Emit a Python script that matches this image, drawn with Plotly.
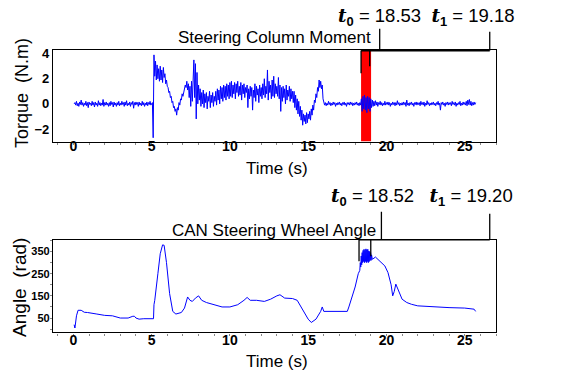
import plotly.graph_objects as go

# ---- data ----
# torque sampled every 0.05 s from 0.05 s to 25.70 s (one row = one second)
torque_v = [
    0.0, 0.1, -0.1, 0.2, -0.15, 0.05, -0.2, 0.15, -0.05, 0.3, -0.1, 0.1, -0.2, 0.05, -0.1, 0.2, -0.15, 0.1, -0.3, 0.15,
    -0.05, 0.05, -0.15, 0.2, -0.1, 0.1, -0.25, 0.15, -0.1, 0.05, -0.2, 0.25, -0.1, 0.1, -0.15, 0.05, -0.1, 0.35, -0.2, 0.1,
    -0.1, 0.15, -0.1, 0.05, -0.2, 0.1, -0.15, 0.2, -0.05, 0.1, -0.25, 0.15, -0.1, 0.05, -0.2, 0.1, -0.1, 0.2, -0.15, 0.05,
    -0.1, 0.2, -0.05, 0.1, -0.2, 0.15, -0.1, 0.25, -0.15, 0.05, -0.1, 0.15, -0.2, 0.1, -0.05, 0.2, -0.35, 0.1, -0.1, 0.15,
    -0.05, 0.1, -0.2, 0.15, -0.1, 0.05, -0.15, 0.2, -0.1, 0.1, -0.2, 0.05, -0.1, 0.15, -0.15, 0.1, -0.05, 0.2, -0.1, 0.05,
    0.1, -2.7, 3.9, 2.2, 3.4, 1.9, 3.1, 2.0, 2.8, 1.8, 3.0, 1.9, 2.7, 1.7, 2.9, 2.1, 2.4, 1.6, 1.9, 1.4,
    1.3, 0.9, 1.0, 0.5, 0.6, 0.1, 0.2, -0.3, -0.2, -0.6, -0.4, -0.9, -0.3, -0.5, 0.1, -0.1, 0.4, 0.3, 0.8, 0.6,
    1.0, 1.2, 1.5, 1.3, 1.8, 1.1, 1.6, 0.5, 1.4, -0.2, 1.8, 0.2, 2.2, 3.5, 0.5, 3.2, -1.2, 2.5, 0.0, 1.5,
    0.3, 1.2, -0.2, 0.9, 0.0, 1.1, -0.3, 0.8, 0.1, 0.9, -0.4, 0.6, 0.2, 1.0, -0.3, 0.7, 0.1, 0.9, -0.2, 0.6,
    0.2, 1.0, -0.1, 1.2, 0.3, 1.1, 0.0, 1.4, 0.4, 1.3, 0.2, 1.5, 0.5, 1.4, 0.3, 1.6, 0.6, 1.5, 0.4, 1.7,
    0.6, 1.8, 0.5, 1.5, 0.8, 1.7, 0.4, 1.6, 0.9, 1.8, 0.6, 1.4, 0.7, 1.7, 0.3, 1.5, 0.8, 1.6, 0.5, 1.3,
    0.9, 1.5, -0.3, 1.2, 0.4, 1.4, 0.6, 1.3, -0.5, 1.1, 0.5, 1.6, 0.2, 1.4, 0.7, 1.2, 0.1, 1.5, 0.6, 1.3,
    0.4, 1.6, 0.7, 2.0, 0.5, 1.4, 0.8, 2.7, 0.3, 1.8, 0.9, 1.5, 0.4, 1.9, 0.6, 2.2, 0.5, 1.6, 0.8, 1.4,
    0.6, 2.1, 0.4, 1.5, -0.6, 1.3, 0.2, 1.4, 0.5, 1.2, 0.0, 1.5, 0.3, 1.1, 0.6, 1.4, 0.2, 1.2, 0.4, 1.0,
    0.1, 1.0, -0.3, 0.7, -0.5, 0.4, -0.8, 0.2, -1.0, -0.2, -1.3, -0.5, -1.7, -0.8, -1.4, -0.9, -1.6, -0.7, -1.5, -0.8,
    -1.2, -0.6, -1.3, -0.4, -0.9, -0.1, -0.5, 0.3, 0.1, 0.8, 0.5, 1.3, 1.0, 1.9, 1.3, 1.8, 1.2, 1.5, 0.4, 0.1,
    -0.1, 0.1, -0.15, 0.05, -0.1, 0.2, -0.05, 0.1, -0.15, 0.05, -0.1, 0.15, -0.05, 0.1, -0.2, 0.05, -0.1, 0.1, -0.05, 0.15,
    -0.1, 0.05, -0.15, 0.1, -0.05, 0.15, -0.1, 0.05, -0.2, 0.1, -0.05, 0.1, -0.1, 0.15, -0.05, 0.1, -0.15, 0.05, -0.1, 0.1,
    -0.05, 0.15, -0.1, 0.05, -0.15, 0.1, -0.1, 0.4, -0.6, 0.6, -0.4, 0.7, -0.5, 0.5, -0.7, 0.6, -0.4, 0.5, -0.6, 0.4,
    -0.3, 0.3, -0.2, 0.2, -0.15, 0.25, -0.1, 0.15, -0.2, 0.1, -0.05, 0.2, -0.1, 0.1, -0.15, 0.05, -0.1, 0.2, -0.1, 0.1,
    -0.05, 0.15, -0.1, 0.1, -0.2, 0.05, -0.1, 0.15, -0.05, 0.1, -0.15, 0.1, -0.1, 0.25, -0.05, 0.1, -0.15, 0.05, -0.1, 0.1,
    -0.1, 0.15, -0.05, 0.1, -0.2, 0.3, -0.1, 0.05, -0.15, 0.1, -0.05, 0.15, -0.1, 0.05, -0.2, 0.1, -0.05, 0.15, -0.1, 0.1,
    -0.05, 0.1, -0.15, 0.2, -0.05, 0.1, -0.1, 0.15, -0.2, 0.05, -0.1, 0.25, -0.05, 0.1, -0.15, 0.05, -0.1, 0.1, -0.05, 0.15,
    -0.1, 0.05, -0.15, 0.1, -0.05, 0.2, -0.1, 0.05, -0.5, 0.1, -0.05, 0.15, -0.1, 0.05, -0.2, 0.1, -0.05, 0.15, -0.1, 0.1,
    -0.05, 0.1, -0.15, 0.2, -0.05, 0.1, -0.1, 0.15, -0.2, 0.05, -0.1, 0.1, -0.05, 0.2, -0.15, 0.05, -0.1, 0.15, -0.05, 0.1,
    -0.1, 0.2, -0.15, 0.3, -0.05, 0.35, -0.1, 0.2, -0.15, 0.1, -0.1, 0.15, -0.05, 0.1,
]
torque_t = [round(0.05 * (i + 1), 2) for i in range(len(torque_v))]

angle_t = [0.05, 0.1, 0.2, 0.3, 0.5, 0.7, 0.9, 1.2, 1.5, 2.0, 2.5, 3.0, 3.5, 3.8, 3.9,
           4.0, 4.2, 4.5, 5.0, 5.12, 5.15, 5.2, 5.4, 5.55, 5.7, 5.8, 5.95, 6.15, 6.35,
           6.55, 6.9, 7.1, 7.3, 7.45, 7.6, 7.8, 8.0, 8.2, 8.5, 9.0, 9.5, 10.0, 10.5,
           10.9, 11.1, 11.3, 11.7, 12.2, 12.6, 13.0, 13.2, 13.5, 14.0, 14.3, 14.5,
           14.8, 15.0, 15.2, 15.5, 15.8, 15.9, 16.0, 16.3, 17.5, 17.6, 18.0, 18.2,
           18.3, 18.33, 18.36, 18.39, 18.42, 18.45, 18.48, 18.51, 18.54, 18.57, 18.6,
           18.63, 18.66, 18.69, 18.72, 18.75, 18.78, 18.81, 18.84, 18.87, 18.9, 18.93,
           18.96, 18.99, 19.02, 19.05, 19.1, 19.3, 19.6, 19.9, 20.1, 20.3, 20.4,
           20.5, 20.6, 20.75, 21.0, 21.3, 21.6, 22.0, 23.0, 24.0, 25.0, 25.4, 25.5,
           25.6, 25.7]
angle_v = [20, 5, 60, 85, 85, 76, 75, 70, 68, 62, 60, 50, 50, 58, 58,
           50, 45, 47, 47, 47, 110, 130, 250, 340, 380, 378, 300, 160, 80,
           68, 75, 95, 145, 130, 125, 140, 150, 130, 120, 110, 100, 100, 110,
           130, 143, 130, 130, 125, 135, 150, 155, 140, 138, 130, 105,
           70, 45, 30, 45, 80, 100, 80, 80, 80, 100, 190, 250,
           265, 300, 280, 330, 290, 345, 300, 355, 305, 360, 300, 355,
           305, 362, 300, 358, 305, 360, 300, 352, 305, 350, 310,
           345, 310, 335, 315, 325, 305, 285, 255, 200, 150, 170,
           203, 180, 135, 120, 112, 105, 100, 97, 95, 93, 92, 90,
           80, 25]

band = [18.38, 19.02]
x_ticks = [0, 5, 10, 15, 20, 25]
torque_ticks = [-2, 0, 2, 4]
angle_ticks = [50, 150, 250, 350]

W, H = 566, 374
FONT = "Liberation Sans, Arial, sans-serif"
SERIF = "DejaVu Serif, serif"


def tlabel(a, b, gap):
    t = "<span style='font-family:%s'><b><i>t</i></b></span>" % SERIF
    return (t + "<b><sub>0</sub></b> = " + a + gap + t + "<b><sub>1</sub></b> = " + b)


top_label = tlabel("18.53", "19.18", "&nbsp;&nbsp;")
bot_label = tlabel("18.52", "19.20", "&nbsp;&nbsp;&nbsp;")


def py(p):
    return 1 - p / H


fig = go.Figure()
fig.add_trace(go.Scatter(x=torque_t, y=torque_v, mode="lines",
                         line=dict(color="#0000ff", width=1), xaxis="x", yaxis="y",
                         showlegend=False))
fig.add_trace(go.Scatter(x=angle_t, y=angle_v, mode="lines",
                         line=dict(color="#0000ff", width=1), xaxis="x2", yaxis="y2",
                         showlegend=False))

axis_common = dict(showline=True, linecolor="black", linewidth=1.2, mirror=True,
                   tickcolor="black", showgrid=False, zeroline=False)

fig.update_layout(
    width=W, height=H,
    margin=dict(l=53, r=70, t=0, b=0),
    paper_bgcolor="white", plot_bgcolor="white",
    font=dict(family=FONT, color="black"),
    xaxis=dict(domain=[0, 1], range=[-1.3, 27], anchor="y", tickvals=x_ticks, ticks="",
               tickfont=dict(size=14, weight="bold"), ticklabelstandoff=-8,
               minor=dict(dtick=1, ticklen=2, tickcolor="#888", ticks="outside"),
               **axis_common),
    yaxis=dict(domain=[py(139), py(47)], range=[-3.0, 4.25], anchor="x", ticks="",
               tickvals=torque_ticks, tickfont=dict(size=13, weight="bold"),
               **axis_common),
    xaxis2=dict(domain=[0, 1], range=[-1.3, 27], anchor="y2", tickvals=x_ticks, ticks="",
                tickfont=dict(size=14, weight="bold"), ticklabelstandoff=-5,
                minor=dict(dtick=1, ticklen=2, tickcolor="#888", ticks="outside"),
                **axis_common),
    yaxis2=dict(domain=[py(332), py(239)], range=[-15, 400], anchor="x2", ticks="",
                tickvals=angle_ticks, tickfont=dict(size=11, weight="bold"),
                minor=dict(dtick=50, ticklen=2, tickcolor="#888", ticks="outside"),
                **axis_common),
)

# red highlighted window
fig.add_shape(type="rect", xref="x", yref="y", x0=band[0], x1=band[1], y0=-3.0, y1=4.25,
              fillcolor="#ff0000", line=dict(width=0), layer="below")

# bracket lines, top panel
line_k = dict(color="black", width=1.3)
for xs, y0, y1 in [(18.38, 47, 70), (18.93, 47, 63), (19.57, 47, 25), (26.6, 47, 28)]:
    fig.add_shape(type="line", xref="x", yref="paper", x0=xs, x1=xs, y0=py(y0), y1=py(y1), line=line_k)
fig.add_shape(type="line", xref="x", yref="paper", x0=18.38, x1=26.6, y0=py(46.8), y1=py(46.8),
              line=dict(color="black", width=2.2))

# bracket lines, bottom panel
for xs, y0, y1 in [(18.25, 238.5, 260), (19.0, 238.5, 255), (19.68, 238.5, 210), (26.6, 238.5, 212)]:
    fig.add_shape(type="line", xref="x2", yref="paper", x0=xs, x1=xs, y0=py(y0), y1=py(y1), line=line_k)
fig.add_shape(type="line", xref="x2", yref="paper", x0=18.25, x1=26.6, y0=py(238.3), y1=py(238.3),
              line=dict(color="black", width=1.3))

ann = [
    dict(text="Steering Column Moment", x=(274 - 53) / 443, y=py(34), size=17),
    dict(text="CAN Steering Wheel Angle", x=(274 - 53) / 443, y=py(229), size=17),
    dict(text=top_label, x=(426.5 - 53) / 443, y=py(13), size=18.5),
    dict(text=bot_label, x=(421.5 - 53) / 443, y=py(195), size=18.5),
    dict(text="Time (s)", x=(277 - 53) / 443, y=py(166), size=17),
    dict(text="Time (s)", x=(277 - 53) / 443, y=py(361), size=17),
]
for a in ann:
    fig.add_annotation(text=a["text"], x=a["x"], y=a["y"], xref="paper", yref="paper",
                       showarrow=False, xanchor="center", yanchor="middle",
                       font=dict(size=a["size"], family=FONT, color="black"))

fig.add_annotation(text="Torque  (N.m)", x=(22 - 53) / 443, y=py(90), xref="paper", yref="paper",
                   showarrow=False, textangle=-90, xanchor="center", yanchor="middle",
                   font=dict(size=18, family=FONT, color="black"))
fig.add_annotation(text="Angle  (rad)", x=(20 - 53) / 443, y=py(287), xref="paper", yref="paper",
                   showarrow=False, textangle=-90, xanchor="center", yanchor="middle",
                   font=dict(size=19, family=FONT, color="black"))

fig.write_html("out.html")
